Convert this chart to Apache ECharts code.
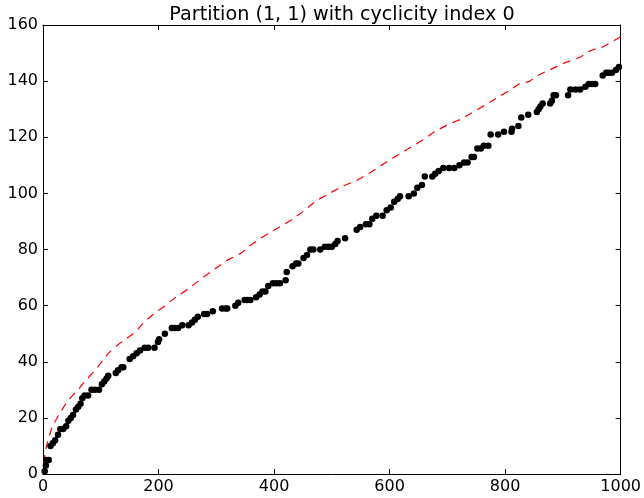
<!DOCTYPE html>
<html>
<head>
<meta charset="utf-8">
<script src="https://cdn.jsdelivr.net/npm/echarts@6/dist/echarts.min.js"></script>
<style>html,body{margin:0;padding:0;background:#fff}#c{width:644px;height:498px}</style>
</head>
<body>
<div id="c"></div>
<script>
var titleText = 'Partition (1, 1) with cyclicity index 0';
var xTicks = [0, 200, 400, 600, 800, 1000];
var yTicks = [0, 20, 40, 60, 80, 100, 120, 140, 160];

var dotX = [3,5,6,10,13,17,21,26,30,35,40,44,48,52,57,61,65,68,72,78,84,90,97,102,106,110,113,126,130,136,139,150,156,162,168,176,182,193,199,201,211,223,229,234,241,252,258,263,268,279,284,294,310,316,319,333,338,349,353,359,369,375,380,385,390,398,404,410,420,422,432,438,442,451,457,463,468,480,488,494,500,506,510,523,543,549,559,565,570,577,588,595,602,608,614,618,633,642,648,656,661,674,679,685,693,703,712,721,729,735,742,746,752,758,763,771,775,788,798,811,812,823,828,840,855,858,861,865,878,881,884,888,909,913,922,930,939,945,950,956,969,975,979,985,992,997];
var dotY = [1,3,5,5,10,11,12,14,16,16,17,19,20,21,23,24,25,27,28,28,30,30,30,32,33,34,35,36,37,38,38,41,42,43,44,45,45,45,47,48,50,52,52,52,53,53,54,55,56,57,57,58,59,59,59,60,61,62,62,62,63,64,65,65,67,68,68,68,69,72,74,75,75,77,78,80,80,80,81,81,81,82,83,84,87,88,89,89,91,92,92,94,95,97,98,99,99,100,102,103,106,106,107,108,109,109,109,110,111,111,113,113,116,116,117,117,121,121,122,122,123,124,127,128,129,130,131,132,132,133,135,135,135,137,137,137,138,139,139,139,142,143,143,143,144,145];

var redX = [1,6,16,30,41,52,61,67,75,95,113,133,159,176,196,211,231,251,271,297,320,343,360,383,406,430,450,473,496,519,542,562,582,605,631,657,677,700,723,749,772,790,808,824,841,858,879,902,930,948,968,982,1000];
var redY = [4,10,17,22,25.5,28.2,30,31.7,33.5,38.2,43,46.6,50.4,54.3,57.8,59.9,63.2,65.8,69.1,73,76.3,78.7,81.6,84.8,87.6,90.5,93.5,97.4,100,102.6,104.5,106.8,109.5,112.5,115.7,119,121.9,124.4,126.4,129.5,132.3,134.5,136.8,139,139.8,142.2,144.2,146.4,148.5,150.9,152.1,153.7,155.8];

var dots = dotX.map(function (x, i) { return [x, dotY[i]]; });
var red = redX.map(function (x, i) { return [x, redY[i]]; });

var font = 'DejaVu Sans';
function axisBase(showLabel, pos, min, max, interval) {
  return {
    type: 'value', position: pos, min: min, max: max, interval: interval,
    axisLine: { show: true, onZero: false, lineStyle: { color: '#000', width: 1 } },
    axisTick: { show: true, inside: true, length: 5, lineStyle: { color: '#000', width: 1 } },
    axisLabel: { show: showLabel, color: '#000', fontSize: 16, fontFamily: font, margin: 5,
      formatter: function (v) { return String(v); } },
    splitLine: { show: false }
  };
}

var chart = echarts.init(document.getElementById('c'), null, { renderer: 'canvas' });
chart.setOption({
  animation: false,
  backgroundColor: '#fff',
  title: {
    text: titleText, left: 337, top: 1, textAlign: 'center',
    textStyle: { fontFamily: font, fontSize: 19.2, fontWeight: 'normal', color: '#000' }
  },
  grid: { left: 43, right: 22, top: 25, bottom: 24 },
  xAxis: [
    axisBase(true, 'bottom', xTicks[0], xTicks[xTicks.length - 1], xTicks[1] - xTicks[0]),
    axisBase(false, 'top', xTicks[0], xTicks[xTicks.length - 1], xTicks[1] - xTicks[0])
  ],
  yAxis: [
    axisBase(true, 'left', yTicks[0], yTicks[yTicks.length - 1], yTicks[1] - yTicks[0]),
    axisBase(false, 'right', yTicks[0], yTicks[yTicks.length - 1], yTicks[1] - yTicks[0])
  ],
  series: [
    {
      type: 'scatter', data: dots, symbol: 'circle', symbolSize: 6.5,
      itemStyle: { color: '#000', opacity: 1 }, xAxisIndex: 0, yAxisIndex: 0, z: 3
    },
    {
      type: 'line', data: red, showSymbol: false, symbol: 'none',
      lineStyle: { color: '#ff0000', width: 1.2, type: [8, 6] },
      xAxisIndex: 0, yAxisIndex: 0, z: 2
    }
  ]
});
</script>
</body>
</html>
